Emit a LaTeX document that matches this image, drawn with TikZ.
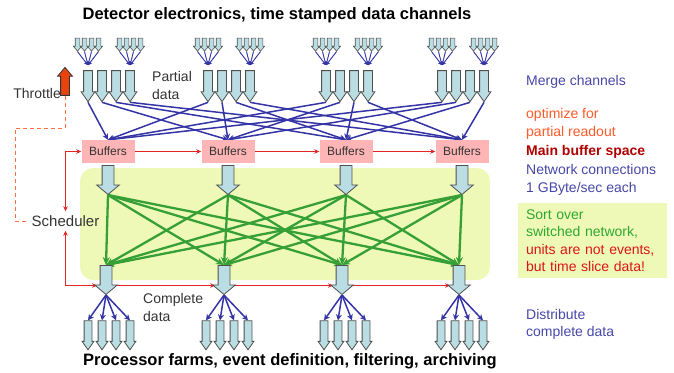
\documentclass[tikz,border=0pt]{standalone}
\usepackage{fontspec}
\setmainfont{Liberation Sans}
\setsansfont{Liberation Sans}
\usetikzlibrary{arrows.meta,positioning,shapes.arrows,calc,backgrounds}
\definecolor{wireblue}{HTML}{3434A6}
\definecolor{wiregreen}{HTML}{36A036}
\definecolor{wirered}{HTML}{E32525}
\definecolor{dashorange}{HTML}{FF7040}
\definecolor{arrowfill}{HTML}{B9DDE2}
\definecolor{arrowedge}{HTML}{505050}
\definecolor{bufpink}{HTML}{FFB5B5}
\definecolor{zonegreen}{HTML}{EEF9B8}
\definecolor{throttlered}{HTML}{E8420E}
\definecolor{noteblue}{HTML}{4747A8}
\definecolor{noteorange}{HTML}{FF5A28}
\definecolor{notedarkred}{HTML}{B00000}
\definecolor{notegreen}{HTML}{2EA82E}
\definecolor{notered}{HTML}{DD1515}
\definecolor{bk80}{HTML}{333333}
\tikzset{
  blockarrow/.style n args={4}{
    single arrow, draw=arrowedge, fill=arrowfill, line width=0.8pt,
    inner xsep=0pt, inner ysep=#2,
    minimum height=#1, minimum width=0pt,
    single arrow head extend=#3, single arrow tip angle=#4
  },
  chanarrow/.style={blockarrow={13pt}{2pt}{1.8pt}{80}, rotate=-90, line width=0.6pt},
  partarrow/.style={blockarrow={31pt}{4pt}{2.5pt}{70}, rotate=-90},
  netarrow/.style={blockarrow={29pt}{5.5pt}{5.5pt}{100}, rotate=-90},
  cpuarrow/.style={blockarrow={29pt}{3.5pt}{2pt}{70}, rotate=-90},
  throttlearrow/.style={blockarrow={28pt}{4pt}{3pt}{80}, rotate=90,
    fill=throttlered, draw=bk80},
  bufbox/.style={rectangle, fill=bufpink, minimum width=53pt, minimum height=23pt,
    inner sep=0pt, font=\fontsize{12}{14}\selectfont, text=bk80},
  switchzone/.style={rectangle, fill=zonegreen, rounded corners=13pt,
    minimum width=410pt, minimum height=112pt},
  headline/.style={font=\fontsize{16.5}{19}\selectfont\bfseries, inner sep=0pt},
  sidetext/.style={font=\fontsize{14}{18}\selectfont, text=bk80, align=left, inner sep=0pt},
  notetext/.style={font=\fontsize{14}{17.5}\selectfont, align=left, anchor=west, inner sep=0pt},
  sortbox/.style={rectangle, fill=zonegreen, minimum width=149pt,
    minimum height=75pt, text width=133pt, align=left,
    font=\fontsize{14}{17.5}\selectfont},
  mergewire/.style={-{Stealth[length=4pt,width=4pt]}, line width=0.9pt, draw=wireblue, fill=wireblue},
  datawire/.style={-{Stealth[length=6pt,width=6pt]}, line width=1.5pt, draw=wireblue},
  switchwire/.style={-{Stealth[length=8pt,width=7pt]}, line width=2.3pt, draw=wiregreen},
  ctrlwire/.style={-{Stealth[length=5pt,width=4.5pt]}, line width=0.9pt, draw=wirered},
  throttlewire/.style={dashed, dash pattern=on 4pt off 3pt, line width=0.9pt, draw=dashorange},
}
\begin{document}
\begin{tikzpicture}[x=1pt,y=-1pt]
\useasboundingbox (0,0) rectangle (674,372);

\begin{pgfonlayer}{background}
\node[switchzone] (zone) at (285,224) {};
\end{pgfonlayer}

\node[headline] (title) at (277,15) {Detector electronics, time stamped data channels};
\node[headline] (farms) at (290,361) {Processor farms, event definition, filtering, archiving};

\foreach \i/\bx/\dx in {1/108/106,2/228/224,3/346/342,4/462/459}{
  \node[bufbox] (buf-\i) at (\bx,151.5) {Buffers};
  \node[netarrow] (net-\i) at (\bx,177.5) {};
  \node[netarrow] (farm-\i) at (\dx,277.5) {};
  \foreach \k/\o in {1/-18,2/-4,3/10,4/24}
    \node[cpuarrow] (cpu-\i-\k) at (\dx+\o,332.5) {};
  \foreach \j/\o in {1/-20,2/-6,3/8,4/22}
    \node[partarrow] (part-\i-\j) at (\bx+\o,83) {};
  \foreach \c in {1,4}{
    \coordinate (merge-\i-\c) at ($(part-\i-\c.tail)+(0,-5)$);
    \foreach \m/\o in {1/-10.5,2/-3.5,3/3.5,4/10.5}
      \node[chanarrow] (chan-\i-\c-\m) at ($(merge-\i-\c)+(\o,-22)$) {};
  }
}

\node[throttlearrow] (throttle) at (65,84) {};
\node[sidetext, anchor=east] (throttlelabel) at (61,93) {Throttle};
\node[sidetext, font=\fontsize{15}{18}\selectfont] (sched) at (65.5,221) {Scheduler};
\coordinate (bend) at (15,128);

\node[sidetext, anchor=west] (partial) at (152,85) {Partial\\data};
\node[sidetext, anchor=west] (complete) at (143,307.5) {Complete\\data};

\node[notetext, text=noteblue] (mergenote) at (526,82) {Merge channels};
\node[notetext, text=noteorange] (optnote) at (526,124) {optimize for\\partial readout};
\node[notetext, text=notedarkred, font=\fontsize{14}{17.5}\selectfont\bfseries] (bufnote) at (526,152) {Main buffer space};
\node[notetext, text=noteblue] (netnote) at (526,180) {Network connections\\1 GByte/sec each};
\node[sortbox] (sortnote) at (592.5,240.5) {\textcolor{notegreen}{Sort over}\\
  \textcolor{notegreen}{switched network,}\\
  \textcolor{notered}{units are not events,}\\
  \textcolor{notered}{but time slice data!}};
\node[notetext, text=noteblue] (distnote) at (526,324.5) {Distribute\\complete data};

\begin{pgfonlayer}{background}
\foreach \i in {1,...,4}{
  \foreach \c in {1,4}
    \foreach \m in {1,...,4}
      \draw[mergewire] (chan-\i-\c-\m.tip) -- (merge-\i-\c);
  \foreach \j in {1,...,4}{
    \draw[datawire] (part-\i-\j.tip) -- (buf-\j.north);
    \draw[switchwire] (net-\i.tip) -- (farm-\j.tail);
    \draw[datawire] (farm-\i.tip) -- (cpu-\i-\j.tail);
  }
}
\draw[ctrlwire, {Stealth[length=5pt,width=4.5pt]}-{Stealth[length=5pt,width=4.5pt]},
  shorten <=4pt] (sched.north) |- (buf-1.west);
\draw[ctrlwire, {Stealth[length=5pt,width=4.5pt]}-{Stealth[length=5pt,width=4.5pt]},
  shorten <=4pt, shorten >=9pt] (sched.south) |- ([yshift=-8pt]farm-1.center);
\foreach \i/\j in {1/2,2/3,3/4}{
  \draw[ctrlwire] (buf-\i.east) -- (buf-\j.west);
  \draw[ctrlwire, shorten >=9pt] ([yshift=-8pt]farm-\i.center) -- ([yshift=-8pt]farm-\j.center);
}
\draw[throttlewire, shorten >=4pt] (throttle.tail) |- (bend) |- (sched.west);
\end{pgfonlayer}

\end{tikzpicture}
\end{document}
